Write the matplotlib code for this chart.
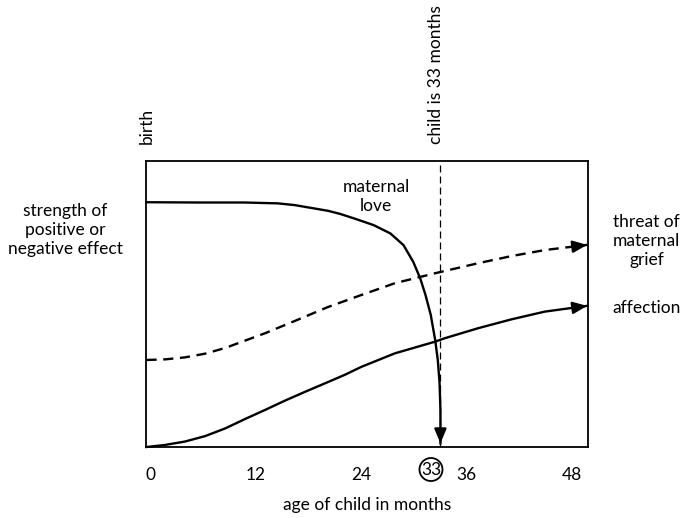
import matplotlib
matplotlib.use("Agg")
from matplotlib import pyplot as plt

plt.rcParams["font.family"] = ["Lato", "DejaVu Sans"]

# values (x = age in months, y = strength 0-100)
love_months = [-0.47, 5.6, 10.7, 14.5, 16.4, 20.2, 21.6, 23.5, 25.4, 27.3,
               28.8, 29.9, 30.7, 31.3, 31.9, 32.4, 32.7, 32.9, 33.0, 33.0]
love_vals = [85.6, 85.5, 85.5, 85.2, 84.6, 82.6, 81.5, 79.6, 77.6, 74.7,
             70.6, 64.8, 59.0, 53.2, 46.2, 37.5, 30.5, 22.4, 13.0, 1.4]

grief_months = [-0.47, 1.6, 3.9, 6.2, 8.5, 10.7, 13.0, 14.5, 16.4, 20.2,
                24.0, 27.8, 32.4, 37.3, 41.1, 44.9, 49.7]
grief_vals = [30.5, 30.7, 31.4, 32.7, 34.7, 37.2, 39.8, 41.7, 44.1, 49.0,
              53.2, 57.3, 60.8, 64.3, 66.8, 68.9, 70.7]

affection_months = [-0.47, 1.6, 3.9, 6.2, 8.5, 10.7, 13.0, 15.3, 17.6, 19.9,
                    22.1, 24.0, 27.8, 32.4, 33.5, 37.3, 41.1, 44.9, 49.7]
affection_vals = [0.1, 0.8, 2.0, 3.9, 6.6, 9.8, 13.0, 16.3, 19.4, 22.4,
                  25.3, 28.1, 32.8, 36.9, 38.1, 41.6, 44.7, 47.4, 49.4]

tick_months = [0, 12, 24, 36, 48]
event_month = 33

FS = 12.5
LW = 1.7

fig = plt.figure(figsize=(6.8, 5.18), dpi=100)
ax = fig.add_axes([0.2154, 0.1365, 0.6489, 0.5527])
ax.set_xlim(-0.47, 49.77)
ax.set_ylim(0, 100)
for sp in ax.spines.values():
    sp.set_linewidth(1.3)
ax.set_yticks([])
ax.set_xticks(tick_months)
ax.set_xticklabels([str(m) for m in tick_months], fontsize=FS)
ax.tick_params(axis="x", length=0, pad=14)
ax.set_xlabel("age of child in months", fontsize=FS, labelpad=10)


def arrow_end(xs, ys):
    # arrow head on the last segment of a curve
    x0, y0 = xs[-2], ys[-2]
    x1, y1 = xs[-1], ys[-1]
    xt = x1 - 0.3 * (x1 - x0)
    yt = y1 - 0.3 * (y1 - y0)
    ax.annotate("", xy=(x1, y1), xytext=(xt, yt),
                arrowprops=dict(arrowstyle="-|>,head_length=0.85,head_width=0.36",
                                color="black", lw=LW, shrinkA=0, shrinkB=0,
                                mutation_scale=10),
                annotation_clip=False)


# event marker
ax.axvline(event_month, color="black", lw=0.9, dashes=(5.6, 3.2))

ax.plot(love_months, love_vals, color="black", lw=LW, clip_on=False,
        solid_joinstyle="round")
arrow_end(love_months, love_vals)
ax.plot(grief_months, grief_vals, color="black", lw=LW, dashes=(4.3, 2.8),
        clip_on=False)
arrow_end(grief_months, grief_vals)
ax.plot(affection_months, affection_vals, color="black", lw=LW, clip_on=False,
        solid_joinstyle="round")
arrow_end(affection_months, affection_vals)

# labels
ax.text(25.7, 87.7, "maternal\nlove", ha="center", va="center", fontsize=FS,
        linespacing=1.25)
ax.text(-9.75, 75.9, "strength of\npositive or\nnegative effect", ha="center",
        va="center", fontsize=FS, linespacing=1.25, clip_on=False)
ax.text(56.5, 72.0, "threat of\nmaternal\ngrief", ha="center", va="center",
        fontsize=FS, linespacing=1.25, clip_on=False)
ax.text(56.5, 48.5, "affection", ha="center", va="center", fontsize=FS,
        clip_on=False)
ax.text(ax.get_xlim()[0], 106, "birth", rotation=90, ha="center", va="bottom",
        fontsize=FS, clip_on=False)
ax.text(event_month - 0.5, 106, "child is 33 months", rotation=90, ha="center",
        va="bottom", fontsize=FS, clip_on=False)

ax.annotate(str(event_month), xy=(event_month, 0),
            xycoords=("data", "axes fraction"), xytext=(-6.8, -16),
            textcoords="offset points", ha="center", va="center", fontsize=FS,
            bbox=dict(boxstyle="circle,pad=0.08", fc="white", ec="black", lw=1.3))

fig.savefig("out.png", dpi=100)
